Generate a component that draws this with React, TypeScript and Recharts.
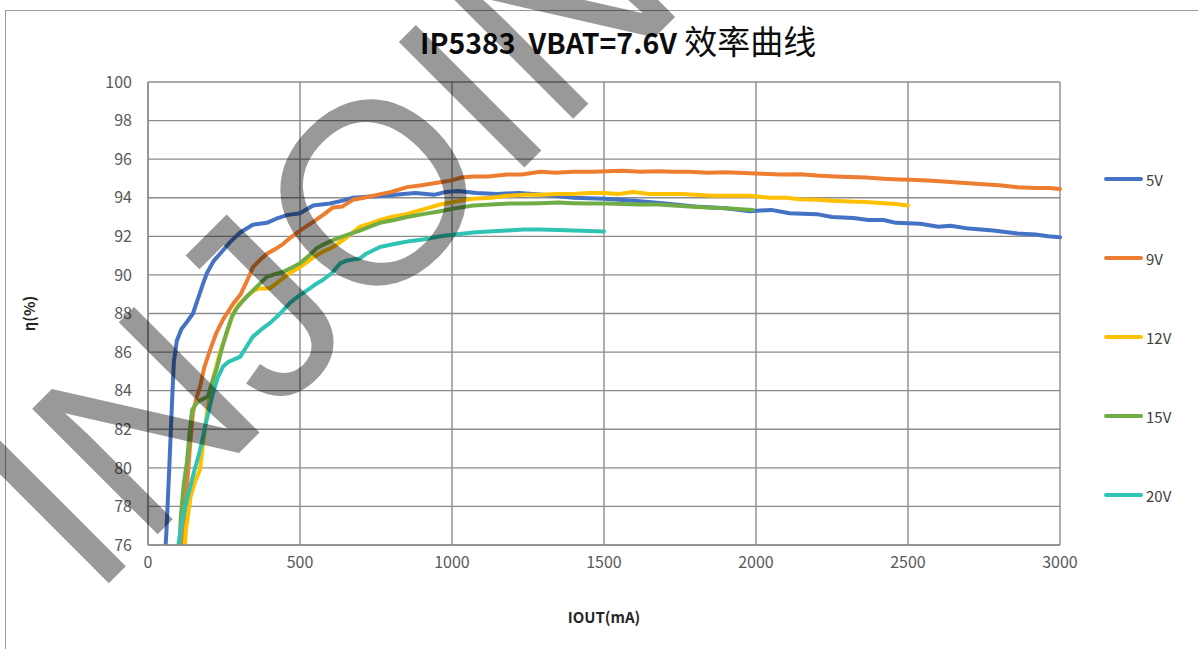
import { CartesianGrid, Legend, Line, LineChart, XAxis, YAxis } from "recharts";

// IOUT (mA), efficiency (%) pairs
const CURVE_5V: [number, number][] = [
  [50, 74], [60, 76.5], [70, 80], [78, 83], [85, 85.5], [95, 86.6], [110, 87.2], [130, 87.6],
  [148, 88.0], [165, 88.8], [180, 89.5], [194, 90.1], [215, 90.7], [237, 91.1], [270, 91.7],
  [303, 92.2], [345, 92.6], [391, 92.7], [420, 92.9], [457, 93.1], [500, 93.2], [543, 93.6],
  [599, 93.7], [640, 93.85], [675, 94.0], [720, 94.05], [780, 94.1], [840, 94.2], [880, 94.25],
  [940, 94.15], [980, 94.3], [1020, 94.35], [1080, 94.25], [1150, 94.2], [1220, 94.25],
  [1300, 94.15], [1400, 94.0], [1500, 93.95], [1600, 93.85], [1700, 93.7], [1800, 93.55],
  [1900, 93.45], [1980, 93.3], [2050, 93.37], [2110, 93.2], [2200, 93.15], [2250, 93.0],
  [2320, 92.95], [2370, 92.85], [2420, 92.85], [2460, 92.7], [2540, 92.65], [2600, 92.5],
  [2640, 92.55], [2700, 92.4], [2780, 92.3], [2860, 92.15], [2920, 92.1], [2960, 92.0], [3000, 91.95],
];

const CURVE_9V: [number, number][] = [
  [108, 74], [118, 77], [128, 79], [138, 81.1], [148, 82.9], [161, 83.7], [171, 84.2], [185, 85.2],
  [204, 86.1], [225, 87.0], [247, 87.7], [280, 88.5], [305, 89.0], [326, 89.7], [345, 90.4],
  [370, 90.8], [391, 91.1], [420, 91.35], [444, 91.6], [470, 91.95], [500, 92.3], [543, 92.75],
  [575, 93.1], [609, 93.5], [640, 93.55], [675, 93.9], [710, 94.0], [753, 94.15], [800, 94.3],
  [852, 94.55], [900, 94.65], [961, 94.8], [1000, 94.9], [1030, 95.05], [1070, 95.1], [1120, 95.1],
  [1180, 95.2], [1230, 95.2], [1290, 95.35], [1340, 95.3], [1400, 95.35], [1460, 95.35],
  [1509, 95.38], [1560, 95.4], [1620, 95.35], [1680, 95.38], [1728, 95.35], [1780, 95.35],
  [1840, 95.3], [1900, 95.32], [1960, 95.28], [2020, 95.25], [2080, 95.2], [2145, 95.22],
  [2200, 95.15], [2260, 95.1], [2309, 95.07], [2360, 95.05], [2420, 94.98], [2470, 94.95],
  [2507, 94.93], [2580, 94.88], [2650, 94.8], [2700, 94.75], [2747, 94.7], [2800, 94.65],
  [2860, 94.55], [2920, 94.5], [2967, 94.5], [3000, 94.45],
];

const CURVE_12V: [number, number][] = [
  [112, 74], [125, 76.8], [140, 78.5], [155, 79.3], [171, 79.9], [183, 81.5], [194, 82.85],
  [214, 84.6], [237, 86.0], [260, 87.0], [280, 88.0], [300, 88.5], [326, 88.9], [350, 89.2],
  [368, 89.3], [401, 89.3], [434, 89.7], [467, 90.1], [500, 90.4], [543, 90.9], [575, 91.2],
  [609, 91.45], [650, 91.9], [697, 92.5], [730, 92.65], [763, 92.85], [800, 93.0], [850, 93.15],
  [905, 93.4], [961, 93.65], [1010, 93.8], [1070, 93.95], [1130, 94.0], [1180, 94.1], [1240, 94.15],
  [1290, 94.15], [1350, 94.2], [1400, 94.2], [1450, 94.25], [1498, 94.25], [1550, 94.2],
  [1596, 94.3], [1650, 94.2], [1700, 94.2], [1750, 94.2], [1800, 94.15], [1860, 94.1],
  [1920, 94.1], [1980, 94.1], [2046, 94.0], [2100, 94.0], [2145, 93.92], [2200, 93.9],
  [2250, 93.85], [2309, 93.8], [2360, 93.78], [2420, 93.72], [2460, 93.68], [2500, 93.6],
];

const CURVE_15V: [number, number][] = [
  [98, 74], [108, 77.5], [118, 79.2], [128, 80.3], [138, 82.0], [145, 83.0], [158, 83.3],
  [171, 83.5], [185, 83.6], [197, 83.7], [212, 84.5], [227, 85.2], [245, 86.3], [260, 87.1],
  [275, 87.8], [293, 88.3], [315, 88.7], [336, 89.05], [365, 89.5], [391, 89.9], [420, 90.05],
  [444, 90.15], [470, 90.35], [500, 90.6], [530, 91.0], [556, 91.4], [580, 91.6], [609, 91.8],
  [650, 92.05], [697, 92.3], [730, 92.5], [763, 92.7], [810, 92.85], [852, 93.0], [905, 93.15],
  [961, 93.3], [1010, 93.45], [1070, 93.6], [1130, 93.65], [1190, 93.7], [1240, 93.7],
  [1290, 93.72], [1350, 93.75], [1400, 93.72], [1450, 93.7], [1509, 93.7], [1560, 93.68],
  [1620, 93.65], [1680, 93.65], [1728, 93.6], [1780, 93.55], [1840, 93.5], [1900, 93.45],
  [1950, 93.4], [1990, 93.36],
];

const CURVE_20V: [number, number][] = [
  [92, 74], [100, 76], [113, 77.3], [128, 78.35], [150, 79.7], [171, 80.9], [193, 82.5],
  [214, 83.9], [230, 84.7], [247, 85.25], [265, 85.5], [280, 85.6], [303, 85.75], [325, 86.3],
  [345, 86.8], [375, 87.2], [401, 87.5], [435, 88.0], [467, 88.55], [495, 88.9], [523, 89.2],
  [550, 89.5], [576, 89.75], [605, 90.1], [632, 90.6], [655, 90.75], [675, 90.8], [697, 90.85],
  [718, 91.1], [763, 91.45], [810, 91.6], [860, 91.75], [910, 91.85], [961, 92.0], [1010, 92.1],
  [1070, 92.2], [1120, 92.25], [1180, 92.3], [1234, 92.35], [1290, 92.35], [1350, 92.33],
  [1400, 92.3], [1450, 92.28], [1500, 92.25],
];

const SERIES_NAMES = ["5V", "9V", "12V", "15V", "20V"];
const SERIES_COLORS = ["#4472C4", "#ED7D31", "#FFC000", "#70AD47", "#2FC3B3"];
const CURVES = [CURVE_5V, CURVE_9V, CURVE_12V, CURVE_15V, CURVE_20V];

const X_TICKS = [0, 500, 1000, 1500, 2000, 2500, 3000];
const Y_TICKS = [76, 78, 80, 82, 84, 86, 88, 90, 92, 94, 96, 98, 100];

const TITLE_LATIN = "IP5383  VBAT=7.6V";
const TITLE_CJK = "效率曲线";
const WATERMARK = "INJOINIC";

const FONT = '"Noto Sans CJK SC", "Noto Sans", sans-serif';
const GRID = "#8c8c8c";

function LegendList() {
  return (
    <div style={{ fontFamily: FONT, fontSize: 15, color: "#404040" }}>
      {SERIES_NAMES.map((name, i) => (
        <div key={name} style={{ display: "flex", alignItems: "center", height: 20, marginBottom: i < SERIES_NAMES.length - 1 ? 59 : 0 }}>
          <span style={{ display: "inline-block", width: 39, height: 4, borderRadius: 2, background: SERIES_COLORS[i], marginRight: 3 }} />
          <span>{name}</span>
        </div>
      ))}
    </div>
  );
}

export default function App() {
  return (
    <div style={{ position: "absolute", left: 0, top: 0, width: 1198, height: 649, overflow: "hidden", background: "#fff" }}>
      <div style={{ position: "absolute", left: 5, top: 10, width: 1200, height: 700, border: "1px solid #9a9a9a" }} />
      <div
        style={{
          position: "absolute",
          left: 420,
          top: 18,
          fontFamily: FONT,
          color: "#0d0d0d",
          whiteSpace: "pre",
          lineHeight: "44px",
        }}
      >
        <span style={{ fontWeight: 700, fontSize: 28.5 }}>{TITLE_LATIN}</span>
        <span style={{ fontSize: 33 }}> {TITLE_CJK}</span>
      </div>
      <div style={{ position: "absolute", left: 0, top: 0 }}>
        <LineChart width={1198} height={649} margin={{ top: 82, right: 138, left: 88, bottom: 74 }}>
          <CartesianGrid stroke={GRID} strokeWidth={1.4} />
          <XAxis
            type="number"
            dataKey="x"
            domain={[0, 3000]}
            ticks={X_TICKS}
            height={30}
            tickLine={false}
            axisLine={{ stroke: GRID, strokeWidth: 1.4 }}
            tick={{ fill: "#595959", fontSize: 16, fontFamily: FONT }}
            tickMargin={6}
            label={{ value: "IOUT(mA)", position: "bottom", offset: 37, fill: "#262626", fontSize: 15, fontWeight: 700, fontFamily: FONT }}
          />
          <YAxis
            type="number"
            dataKey="y"
            domain={[76, 100]}
            ticks={Y_TICKS}
            allowDataOverflow
            width={60}
            tickLine={false}
            tickSize={0}
            tickMargin={16}
            axisLine={{ stroke: GRID, strokeWidth: 1.4 }}
            tick={{ fill: "#595959", fontSize: 16, fontFamily: FONT }}
            label={{ value: "η(%)", angle: -90, position: "center", dx: -88, fill: "#262626", fontSize: 15, fontWeight: 700, fontFamily: FONT }}
          />
          <Legend
            layout="vertical"
            align="center"
            verticalAlign="middle"
            wrapperStyle={{ position: "absolute", left: 1104, top: 169, width: 90, height: 340 }}
            content={() => <LegendList />}
          />
          {CURVES.map((curve, i) => (
            <Line
              key={SERIES_NAMES[i]}
              name={SERIES_NAMES[i]}
              data={curve.map(([x, y]) => ({ x, y }))}
              dataKey="y"
              type="linear"
              stroke={SERIES_COLORS[i]}
              strokeWidth={4}
              strokeLinecap="round"
              strokeLinejoin="round"
              dot={false}
              activeDot={false}
              isAnimationActive={false}
            />
          ))}
        </LineChart>
      </div>
      <svg width={1198} height={649} style={{ position: "absolute", left: 0, top: 0, pointerEvents: "none" }}>
        <text
          x={92}
          y={600}
          transform="rotate(-45 92 600)"
          fontFamily='"Liberation Sans", Arial, sans-serif'
          fontSize={258}
          fill="#000"
          fillOpacity={0.4}
        >
          {WATERMARK}
        </text>
      </svg>
    </div>
  );
}
